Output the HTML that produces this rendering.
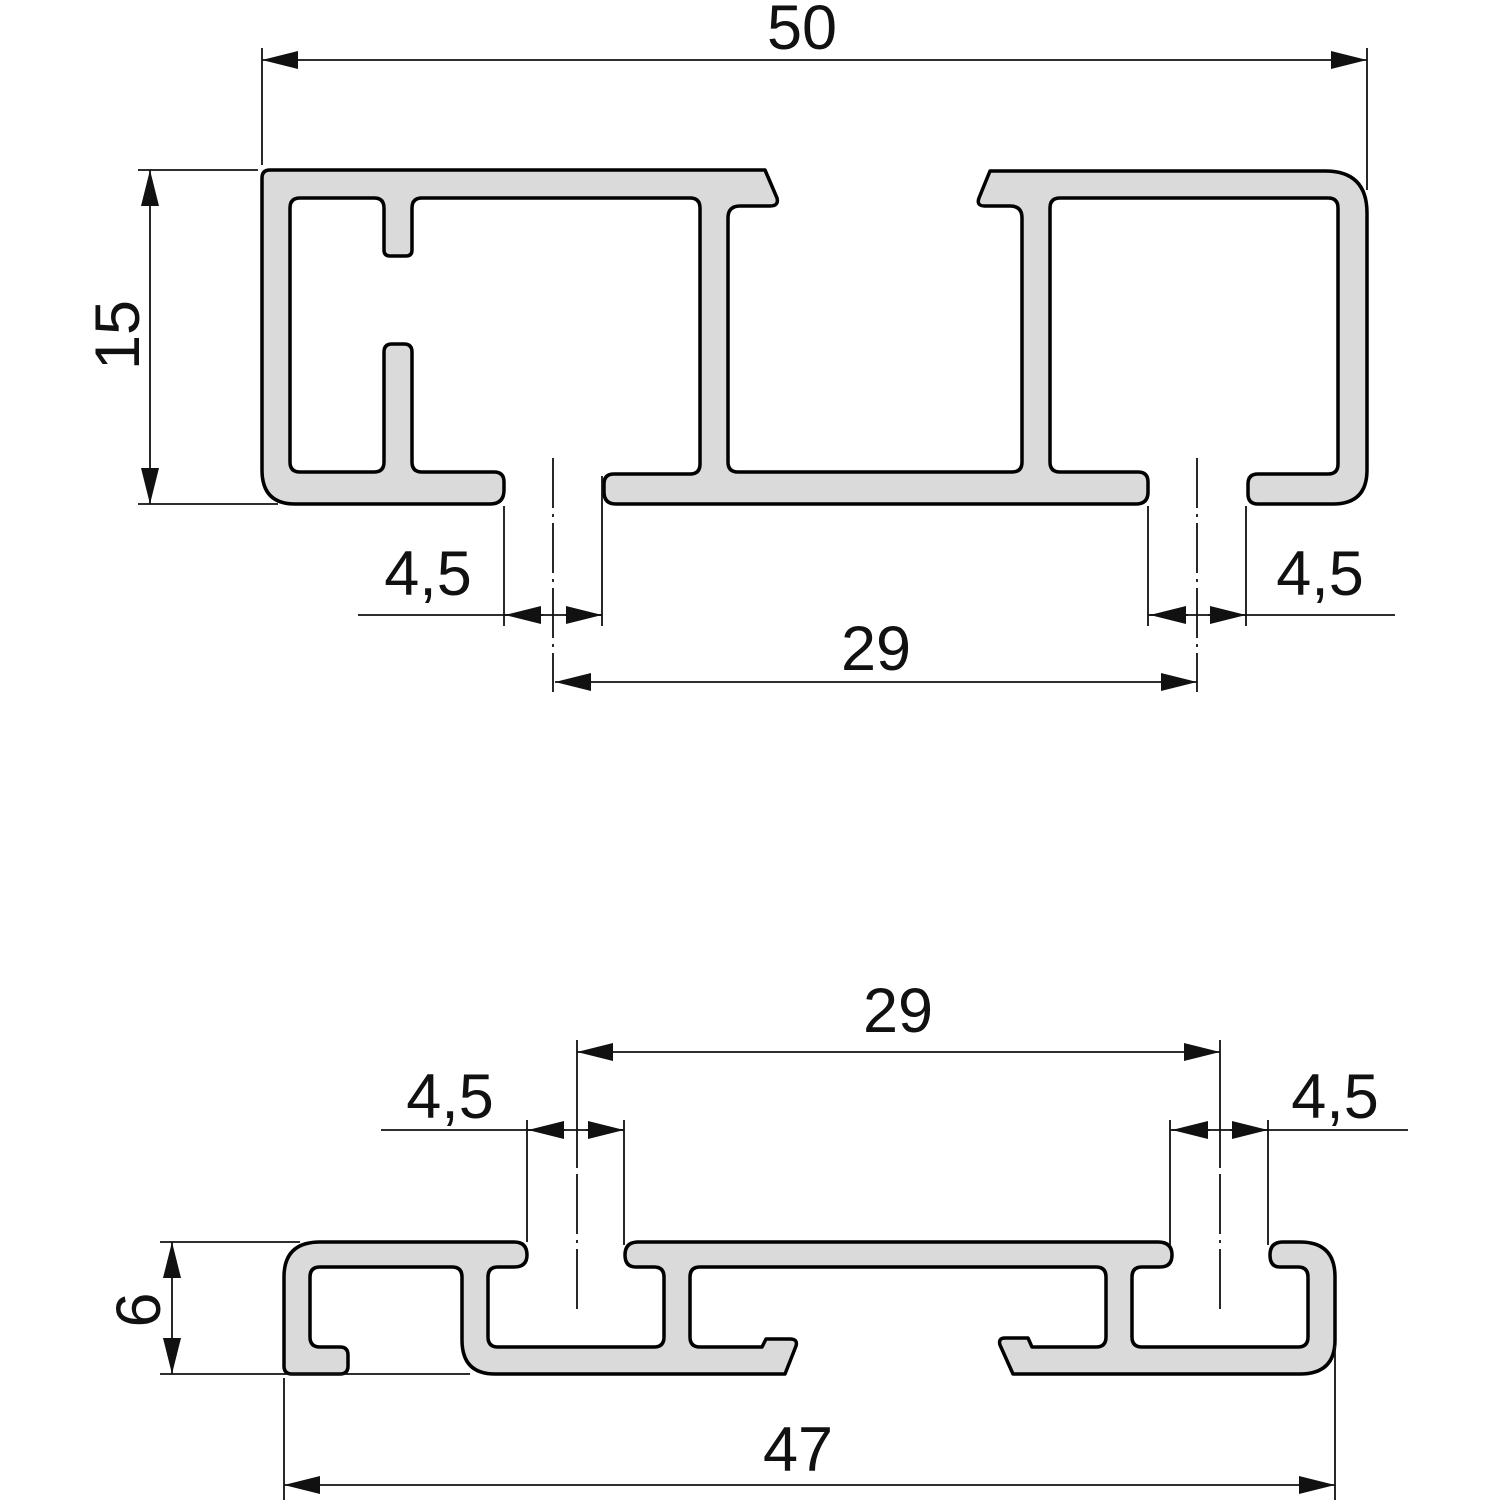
<!DOCTYPE html>
<html><head><meta charset="utf-8"><style>
html,body{margin:0;padding:0;background:#fff;}
svg{display:block;}
text{font-family:"Liberation Sans",sans-serif;font-size:63px;fill:#111;}
</style></head><body>
<svg width="1500" height="1500" viewBox="0 0 1500 1500" xmlns="http://www.w3.org/2000/svg">
<defs>
<marker id="a" viewBox="0 0 36 18" refX="36" refY="9" markerWidth="36" markerHeight="18" markerUnits="userSpaceOnUse" orient="auto-start-reverse">
<path d="M0,0 L36,9 L0,18 Z" fill="#111"/></marker>
</defs>
<path fill="#dadada" stroke="#000" stroke-width="3.5" stroke-linejoin="round" d="M270,170 H765 L777,198 Q779,206 770,206 H740 Q728,206 728,218 V462 Q728,472 738,472 H1012 Q1022,472 1022,462 V218 Q1022,206 1010,206 H985 Q976,206 979,198 L990,171 H1325 Q1367,171 1367,213 V470 Q1367,504 1333,504 H1258 Q1248,504 1248,494 V484 Q1248,474 1258,474 H1328 Q1338,474 1338,464 V208 Q1338,198 1328,198 H1060 Q1050,198 1050,208 V462 Q1050,472 1060,472 H1138 Q1148,472 1148,482 V492 Q1148,504 1136,504 H616 Q604,504 604,492 V484 Q604,474 614,474 H690 Q700,474 700,464 V208 Q700,198 690,198 H422 Q412,198 412,208 V250 Q412,256 406,256 H390 Q384,256 384,250 V208 Q384,198 374,198 H300 Q290,198 290,208 V462 Q290,472 300,472 H374 Q384,472 384,462 V352 Q384,344 392,344 H404 Q412,344 412,352 V462 Q412,472 422,472 H494 Q504,472 504,482 V490 Q504,504 490,504 H295 Q262,504 262,470 V178 Q262,170 270,170 Z"/>
<path fill="#dadada" stroke="#000" stroke-width="3.5" stroke-linejoin="round" d="M320,1242 H514 Q527,1242 527,1255 Q527,1267 514,1267 H498 Q488,1267 488,1277 V1337 Q488,1347 498,1347 H654 Q664,1347 664,1337 V1277 Q664,1267 654,1267 H636 Q625,1267 625,1255 Q625,1242 638,1242 H1158 Q1172,1242 1172,1255 Q1172,1267 1160,1267 H1142 Q1132,1267 1132,1277 V1337 Q1132,1347 1142,1347 H1298 Q1308,1347 1308,1337 V1277 Q1308,1267 1298,1267 H1280 Q1270,1267 1270,1255 Q1270,1242 1283,1242 H1300 Q1335,1242 1335,1277 V1340 Q1335,1374 1300,1374 H1013 L1000,1345 Q998,1338 1005,1338 H1028 L1032,1347 H1096 Q1106,1347 1106,1337 V1277 Q1106,1267 1096,1267 H700 Q690,1267 690,1277 V1337 Q690,1347 700,1347 H762 L766,1339 H790 Q798,1339 796,1346 L785,1374 H495 Q462,1374 462,1340 V1277 Q462,1267 452,1267 H320 Q310,1267 310,1277 V1337 Q310,1347 320,1347 H340 Q348,1347 348,1355 V1366 Q348,1374 340,1374 H292 Q284,1374 284,1366 V1277 Q284,1242 320,1242 Z"/>
<g stroke="#111" stroke-width="1.8" fill="none">
<line x1="262" y1="48" x2="262" y2="165"/><line x1="1367" y1="48" x2="1367" y2="190"/>
<line x1="262" y1="60" x2="1367" y2="60" marker-start="url(#a)" marker-end="url(#a)"/>
<line x1="138" y1="170" x2="258" y2="170"/><line x1="138" y1="504" x2="278" y2="504"/>
<line x1="150" y1="170" x2="150" y2="504" marker-start="url(#a)" marker-end="url(#a)"/>
<line x1="504" y1="506" x2="504" y2="626"/><line x1="602" y1="476" x2="602" y2="626"/>
<line x1="358" y1="615" x2="602" y2="615"/>
<line x1="543" y1="615" x2="505" y2="615" marker-end="url(#a)"/>
<line x1="565" y1="615" x2="602" y2="615" marker-end="url(#a)"/>
<line x1="553" y1="458" x2="553" y2="692" stroke-dasharray="50 6 3 6"/>
<line x1="555" y1="682" x2="1197" y2="682" marker-start="url(#a)" marker-end="url(#a)"/>
<line x1="1148" y1="506" x2="1148" y2="626"/><line x1="1246" y1="506" x2="1246" y2="626"/>
<line x1="1148" y1="615" x2="1395" y2="615"/>
<line x1="1188" y1="615" x2="1150" y2="615" marker-end="url(#a)"/>
<line x1="1208" y1="615" x2="1246" y2="615" marker-end="url(#a)"/>
<line x1="1197" y1="458" x2="1197" y2="692" stroke-dasharray="50 6 3 6"/>
<line x1="577" y1="1040" x2="577" y2="1165"/><line x1="1220" y1="1040" x2="1220" y2="1165"/>
<line x1="577" y1="1052" x2="1220" y2="1052" marker-start="url(#a)" marker-end="url(#a)"/>
<line x1="577" y1="1165" x2="577" y2="1312" stroke-dasharray="3 6 60 6"/>
<line x1="1220" y1="1165" x2="1220" y2="1315" stroke-dasharray="3 6 60 6"/>
<line x1="527" y1="1120" x2="527" y2="1242"/><line x1="624" y1="1120" x2="624" y2="1245"/>
<line x1="381" y1="1130" x2="624" y2="1130"/>
<line x1="565" y1="1130" x2="528" y2="1130" marker-end="url(#a)"/>
<line x1="586" y1="1130" x2="624" y2="1130" marker-end="url(#a)"/>
<line x1="1170" y1="1120" x2="1170" y2="1245"/><line x1="1268" y1="1120" x2="1268" y2="1245"/>
<line x1="1170" y1="1130" x2="1408" y2="1130"/>
<line x1="1210" y1="1130" x2="1172" y2="1130" marker-end="url(#a)"/>
<line x1="1230" y1="1130" x2="1268" y2="1130" marker-end="url(#a)"/>
<line x1="160" y1="1242" x2="300" y2="1242"/><line x1="160" y1="1374" x2="470" y2="1374"/>
<line x1="172" y1="1242" x2="172" y2="1374" marker-start="url(#a)" marker-end="url(#a)"/>
<line x1="284" y1="1378" x2="284" y2="1500"/><line x1="1335" y1="1345" x2="1335" y2="1500"/>
<line x1="284" y1="1485" x2="1335" y2="1485" marker-start="url(#a)" marker-end="url(#a)"/>
</g>
<text x="802" y="49" text-anchor="middle">50</text>
<text transform="translate(139,335) rotate(-90)" text-anchor="middle">15</text>
<text x="428" y="595" text-anchor="middle">4,5</text>
<text x="1320" y="595" text-anchor="middle">4,5</text>
<text x="876" y="670" text-anchor="middle">29</text>
<text x="898" y="1032" text-anchor="middle">29</text>
<text x="450" y="1118" text-anchor="middle">4,5</text>
<text x="1335" y="1118" text-anchor="middle">4,5</text>
<text transform="translate(160,1310) rotate(-90)" text-anchor="middle">6</text>
<text x="798" y="1471" text-anchor="middle">47</text>
</svg>
</body></html>
